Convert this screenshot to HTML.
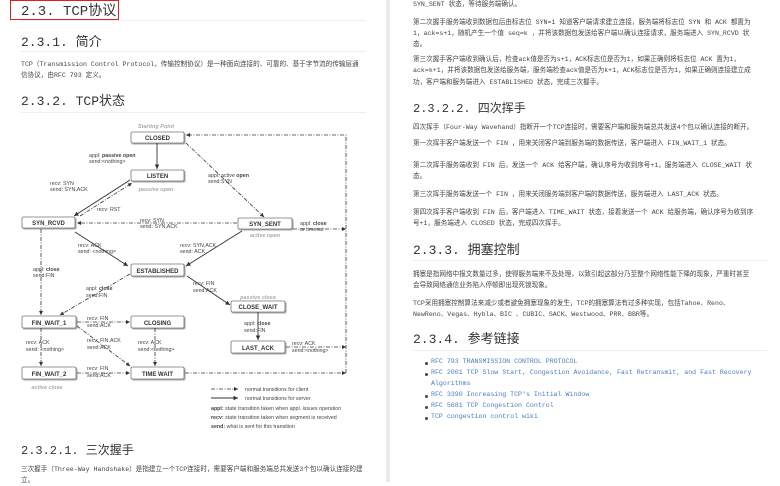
<!DOCTYPE html>
<html><head><meta charset="utf-8"><style>
*{margin:0;padding:0;box-sizing:border-box}
body{width:780px;height:482px;overflow:hidden;background:#fff;position:relative;font-family:"Liberation Mono","Noto Sans CJK SC",monospace;color:#333}
.a{position:absolute;white-space:nowrap}
.h1{font-size:14px;color:#333}
.h2{font-size:13px;color:#333}
.h3{font-size:12px;color:#333}
.p{font-size:6.6px;color:#444;line-height:11px}
.hr{position:absolute;height:1px;background:#eee}
.lk{font-size:6.6px;color:#4a7cc0}
.dot{position:absolute;width:3px;height:3px;border-radius:50%;background:#444}
svg text{font-family:"Liberation Sans",sans-serif}
</style></head><body>
<div class="a" style="left:386px;top:0;width:4px;height:482px;background:linear-gradient(90deg,#f2f2f2,#e4e4e4,#f2f2f2)"></div>

<div class="a" style="left:10px;top:0;width:109px;height:20px;border:1.5px solid #e02020"></div>
<div class="a h1" style="left:21px;top:0px">2.3. TCP协议</div>
<div class="hr" style="left:20px;top:20px;width:346px"></div>
<div class="a h2" style="left:21px;top:31px">2.3.1. 简介</div>
<div class="hr" style="left:20px;top:51px;width:346px"></div>
<div class="a p" style="left:21px;top:59px">TCP（Transmission Control Protocol，传输控制协议）是一种面向连接的、可靠的、基于字节流的传输层通</div>
<div class="a p" style="left:21px;top:70px">信协议，由RFC 793 定义。</div>
<div class="a h2" style="left:21px;top:90px">2.3.2. TCP状态</div>
<div class="hr" style="left:20px;top:112px;width:346px"></div>

<svg class="a" style="left:0;top:115px" width="386" height="320" viewBox="0 115 386 320">
<defs>
<marker id="ar" markerWidth="6" markerHeight="6" refX="5" refY="3" orient="auto"><path d="M0,0.5 L5,3 L0,5.5z" fill="#333"/></marker>
<filter id="sh"><feDropShadow dx="1" dy="1" stdDeviation="0.6" flood-color="#999"/></filter>
</defs>
<g fill="#fff" stroke="#777" stroke-width="0.8" filter="url(#sh)">
<rect x="131" y="132" width="53" height="11" rx="1.5"/>
<rect x="131" y="170" width="53" height="11" rx="1.5"/>
<rect x="22" y="217" width="53" height="11" rx="1.5"/>
<rect x="238" y="218" width="54" height="11" rx="1.5"/>
<rect x="131" y="264" width="53" height="12" rx="1.5"/>
<rect x="231" y="301" width="54" height="11" rx="1.5"/>
<rect x="22" y="316" width="54" height="12" rx="1.5"/>
<rect x="131" y="316" width="53" height="12" rx="1.5"/>
<rect x="231" y="341" width="54" height="12" rx="1.5"/>
<rect x="22" y="367" width="54" height="12" rx="1.5"/>
<rect x="131" y="367" width="53" height="12" rx="1.5"/>
</g>
<g font-size="6" font-weight="bold" fill="#333" text-anchor="middle">
<text x="157.5" y="140">CLOSED</text>
<text x="157.5" y="178">LISTEN</text>
<text x="48.5" y="225">SYN_RCVD</text>
<text x="265" y="226">SYN_SENT</text>
<text x="157.5" y="273">ESTABLISHED</text>
<text x="258" y="309">CLOSE_WAIT</text>
<text x="49" y="325">FIN_WAIT_1</text>
<text x="157.5" y="325">CLOSING</text>
<text x="258" y="350">LAST_ACK</text>
<text x="49" y="376">FIN_WAIT_2</text>
<text x="157.5" y="376">TIME WAIT</text>
</g>
<g font-size="5.5" font-style="italic" font-weight="bold" fill="#aaa" text-anchor="middle">
<text x="156" y="128">Starting Point</text>
<text x="156" y="191">passive open</text>
<text x="265" y="237">active open</text>
<text x="258" y="299">passive close</text>
<text x="47" y="389">active close</text>
</g>
<g stroke="#333" stroke-width="0.9" fill="none" marker-end="url(#ar)">
<line x1="157" y1="143" x2="157" y2="169"/>
<line x1="130" y1="180" x2="74" y2="216"/>
<line x1="75" y1="232" x2="128" y2="266"/>
<line x1="242" y1="231" x2="186" y2="266"/>
<line x1="187" y1="276" x2="230" y2="305"/>
<line x1="258" y1="312" x2="258" y2="340"/>
</g>
<g stroke="#333" stroke-width="0.8" fill="none" stroke-dasharray="4,1.5,1,1.5" marker-end="url(#ar)">
<line x1="186" y1="143" x2="264" y2="217"/>
<line x1="80" y1="216" x2="132" y2="183"/>
<line x1="237" y1="223" x2="77" y2="223"/>
<polyline points="293,229 346,229"/>
<polyline points="346,373 346,135 186,135"/>
<line x1="41" y1="229" x2="41" y2="315"/>
<line x1="130" y1="274" x2="60" y2="315"/>
<line x1="77" y1="322" x2="130" y2="322"/>
<line x1="77" y1="326" x2="130" y2="366"/>
<line x1="41" y1="328" x2="41" y2="366"/>
<line x1="155" y1="328" x2="155" y2="366"/>
<line x1="77" y1="373" x2="130" y2="373"/>
<line x1="185" y1="373" x2="346" y2="373"/>
<line x1="286" y1="347" x2="346" y2="347"/>
<line x1="211" y1="389" x2="238" y2="389"/>
</g>
<line x1="211" y1="398" x2="238" y2="398" stroke="#333" stroke-width="0.9" marker-end="url(#ar)"/>
<g font-size="5.3" fill="#444">
<text x="89" y="157">appl: <tspan font-weight="bold">passive open</tspan></text><text x="89" y="163">send:&lt;nothing&gt;</text>
<text x="208" y="177">appl: active <tspan font-weight="bold">open</tspan></text><text x="208" y="183">send:SYN</text>
<text x="50" y="185">recv: SYN</text><text x="50" y="191">send: SYN,ACK</text>
<text x="97" y="211">recv: RST</text>
<text x="140" y="222">recv: SYN</text><text x="140" y="228">send: SYN,ACK</text>
<text x="300" y="225">appl: <tspan font-weight="bold">close</tspan></text><text x="300" y="231">or timeout</text>
<text x="78" y="247">recv: ACK</text><text x="78" y="253">send: &lt;nothing&gt;</text>
<text x="180" y="247">recv: SYN,ACK</text><text x="180" y="253">send: ACK</text>
<text x="33" y="271">appl: <tspan font-weight="bold">close</tspan></text><text x="33" y="277">send:FIN</text>
<text x="86" y="290">appl: <tspan font-weight="bold">close</tspan></text><text x="86" y="297">send:FIN</text>
<text x="193" y="285">recv: FIN</text><text x="193" y="292">send:ACK</text>
<text x="87" y="320">recv: FIN</text><text x="87" y="327">send:ACK</text>
<text x="244" y="325">appl: <tspan font-weight="bold">close</tspan></text><text x="244" y="332">send:FIN</text>
<text x="26" y="344">recv: ACK</text><text x="26" y="351">send: &lt;nothing&gt;</text>
<text x="87" y="342">recv: FIN,ACK</text><text x="87" y="349">send:ACK</text>
<text x="138" y="344">recv: ACK</text><text x="138" y="351">send:&lt;nothing&gt;</text>
<text x="292" y="345">recv: ACK</text><text x="292" y="352">send:&lt;nothing&gt;</text>
<text x="87" y="370">recv: FIN</text><text x="87" y="377">send:ACK</text>
<text x="245" y="391">normal transitions for client</text>
<text x="245" y="400">normal transitions for server</text>
<text x="211" y="410"><tspan font-weight="bold">appl:</tspan> state transition taken when appl. issues operation</text>
<text x="211" y="419"><tspan font-weight="bold">recv:</tspan> state transition taken when segment is received</text>
<text x="211" y="428"><tspan font-weight="bold">send:</tspan> what is sent for this transition</text>
</g>
</svg>

<div class="a h3" style="left:21px;top:441px">2.3.2.1. 三次握手</div>
<div class="a p" style="left:21px;top:464px">三次握手（Three-Way Handshake）是指建立一个TCP连接时，需要客户端和服务端总共发送3个包以确认连接的建</div>
<div class="a p" style="left:21px;top:475px">立。</div>

<div class="a p" style="left:413px;top:-1px">SYN_SENT 状态，等待服务端确认。</div>
<div class="a p" style="left:413px;top:17px">第二次握手服务端收到数据包后由标志位 SYN=1 知道客户端请求建立连接，服务端将标志位 SYN 和 ACK 都置为</div>
<div class="a p" style="left:413px;top:28px">1，ack=s+1，随机产生一个值 seq=k ，并将该数据包发送给客户端以确认连接请求，服务端进入 SYN_RCVD 状</div>
<div class="a p" style="left:413px;top:39px">态。</div>
<div class="a p" style="left:413px;top:54px">第三次握手客户端收到确认后，检查ack值是否为s+1，ACK标志位是否为1，如果正确则将标志位 ACK 置为1，</div>
<div class="a p" style="left:413px;top:65px">ack=k+1，并将该数据包发送给服务端，服务端检查ack值是否为k+1，ACK标志位是否为1，如果正确则连接建立成</div>
<div class="a p" style="left:413px;top:77px">功，客户端和服务端进入 ESTABLISHED 状态，完成三次握手。</div>
<div class="a h3" style="left:413px;top:99px">2.3.2.2. 四次挥手</div>
<div class="a p" style="left:413px;top:122px">四次挥手（Four-Way Wavehand）指断开一个TCP连接时，需要客户端和服务端总共发送4个包以确认连接的断开。</div>
<div class="a p" style="left:413px;top:138px">第一次挥手客户端发送一个 FIN ，用来关闭客户端到服务端的数据传送，客户端进入 FIN_WAIT_1 状态。</div>
<div class="a p" style="left:413px;top:160px">第二次挥手服务端收到 FIN 后，发送一个 ACK 给客户端，确认序号为收到序号+1，服务端进入 CLOSE_WAIT 状</div>
<div class="a p" style="left:413px;top:171px">态。</div>
<div class="a p" style="left:413px;top:189px">第三次挥手服务端发送一个 FIN ，用来关闭服务端到客户端的数据传送，服务端进入 LAST_ACK 状态。</div>
<div class="a p" style="left:413px;top:207px">第四次挥手客户端收到 FIN 后，客户端进入 TIME_WAIT 状态，接着发送一个 ACK 给服务端，确认序号为收到序</div>
<div class="a p" style="left:413px;top:218px">号+1，服务端进入 CLOSED 状态，完成四次挥手。</div>
<div class="a h2" style="left:413px;top:239px">2.3.3. 拥塞控制</div>
<div class="hr" style="left:412px;top:260px;width:355px"></div>
<div class="a p" style="left:413px;top:269px">拥塞是指网络中报文数量过多，使得服务端来不及处理，以致引起这部分乃至整个网络性能下降的现象，严重时甚至</div>
<div class="a p" style="left:413px;top:280px">会导致网络通信业务陷入停顿即出现死锁现象。</div>
<div class="a p" style="left:413px;top:298px">TCP采用拥塞控制算法来减少或者避免拥塞现象的发生，TCP的拥塞算法有过多种实现，包括Tahoe、Reno、</div>
<div class="a p" style="left:413px;top:309px">NewReno、Vegas、Hybla、BIC 、CUBIC、SACK、Westwood、PRR、BBR等。</div>
<div class="a h2" style="left:413px;top:328px">2.3.4. 参考链接</div>
<div class="hr" style="left:412px;top:350px;width:355px"></div>
<div class="dot" style="left:425px;top:362px"></div><div class="a lk" style="left:431px;top:358px">RFC 793 TRANSMISSION CONTROL PROTOCOL</div>
<div class="dot" style="left:425px;top:373px"></div><div class="a lk" style="left:431px;top:369px">RFC 2001 TCP Slow Start, Congestion Avoidance, Fast Retransmit, and Fast Recovery</div>
<div class="a lk" style="left:431px;top:380px">Algorithms</div>
<div class="dot" style="left:425px;top:395px"></div><div class="a lk" style="left:431px;top:391px">RFC 3390 Increasing TCP's Initial Window</div>
<div class="dot" style="left:425px;top:406px"></div><div class="a lk" style="left:431px;top:402px">RFC 5681 TCP Congestion Control</div>
<div class="dot" style="left:425px;top:417px"></div><div class="a lk" style="left:431px;top:413px">TCP congestion control wiki</div>
</body></html>
